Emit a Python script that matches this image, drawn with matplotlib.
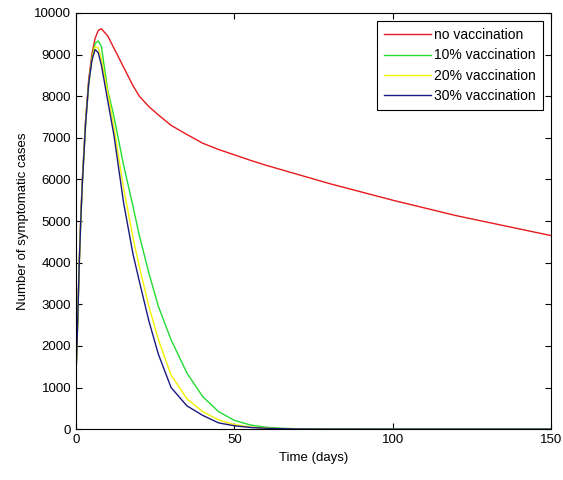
import numpy as np
import matplotlib
matplotlib.use('Agg')
import matplotlib.pyplot as plt

plt.rcParams['font.family'] = ['Liberation Sans', 'DejaVu Sans']

t = [0, 0.5, 1, 1.5, 2, 3, 4, 5, 6, 7, 8, 10, 12, 15, 18, 20, 23, 26, 30,
     35, 40, 45, 50, 55, 60, 65, 70, 80, 100, 120, 150]

no_vacc = [1300, 2600, 4000, 5100, 6000, 7400, 8400, 9000, 9380, 9580, 9620,
           9450, 9150, 8700, 8250, 8000, 7750, 7550, 7300, 7080, 6870, 6720,
           6590, 6460, 6340, 6230, 6120, 5900, 5500, 5130, 4650]
vacc10 = [1300, 2500, 3900, 5000, 5900, 7300, 8300, 8900, 9260, 9330, 9200,
          8150, 7500, 6350, 5350, 4650, 3750, 2950, 2150, 1350, 780, 420,
          210, 100, 45, 20, 8, 2, 0, 0, 0]
vacc20 = [1300, 2500, 3900, 5000, 5900, 7300, 8300, 8880, 9190, 9160, 8900,
          8100, 7250, 5800, 4600, 3900, 2950, 2150, 1300, 730, 420, 220,
          110, 50, 25, 10, 4, 1, 0, 0, 0]
vacc30 = [1300, 2500, 3900, 5000, 5900, 7300, 8300, 8850, 9120, 9050, 8750,
          7900, 7050, 5450, 4200, 3550, 2600, 1800, 1000, 560, 330, 150,
          80, 40, 20, 10, 4, 1, 0, 0, 0]

labels = ['no vaccination', '10% vaccination', '20% vaccination', '30% vaccination']
colors = ['#e8191e', '#22dd33', '#f2f200', '#1a1a80']

fig = plt.figure(figsize=(5.63, 4.8), dpi=100)
ax = fig.add_axes([0.135, 0.106, 0.844, 0.867])
for y, lab, c in zip([no_vacc, vacc10, vacc20, vacc30], labels, colors):
    ax.plot(t, y, color=c, linewidth=1, label=lab)

ax.set_xlim(0, 150)
ax.set_ylim(0, 10000)
ax.set_xticks([0, 50, 100, 150])
ax.set_yticks(np.arange(0, 10001, 1000))
ax.tick_params(direction='in', top=True, right=True, labelsize=9.5, length=4)
ax.set_xlabel('Time (days)', fontsize=9.5)
ax.set_ylabel('Number of symptomatic cases', fontsize=9.5)
leg = ax.legend(loc='upper right', fontsize=10, fancybox=False, framealpha=1,
                edgecolor='black', handlelength=3.4, handletextpad=0.2,
                borderaxespad=0.6, labelspacing=0.45, borderpad=0.5)
leg.get_frame().set_linewidth(0.8)

fig.savefig('out.png', dpi=100)
